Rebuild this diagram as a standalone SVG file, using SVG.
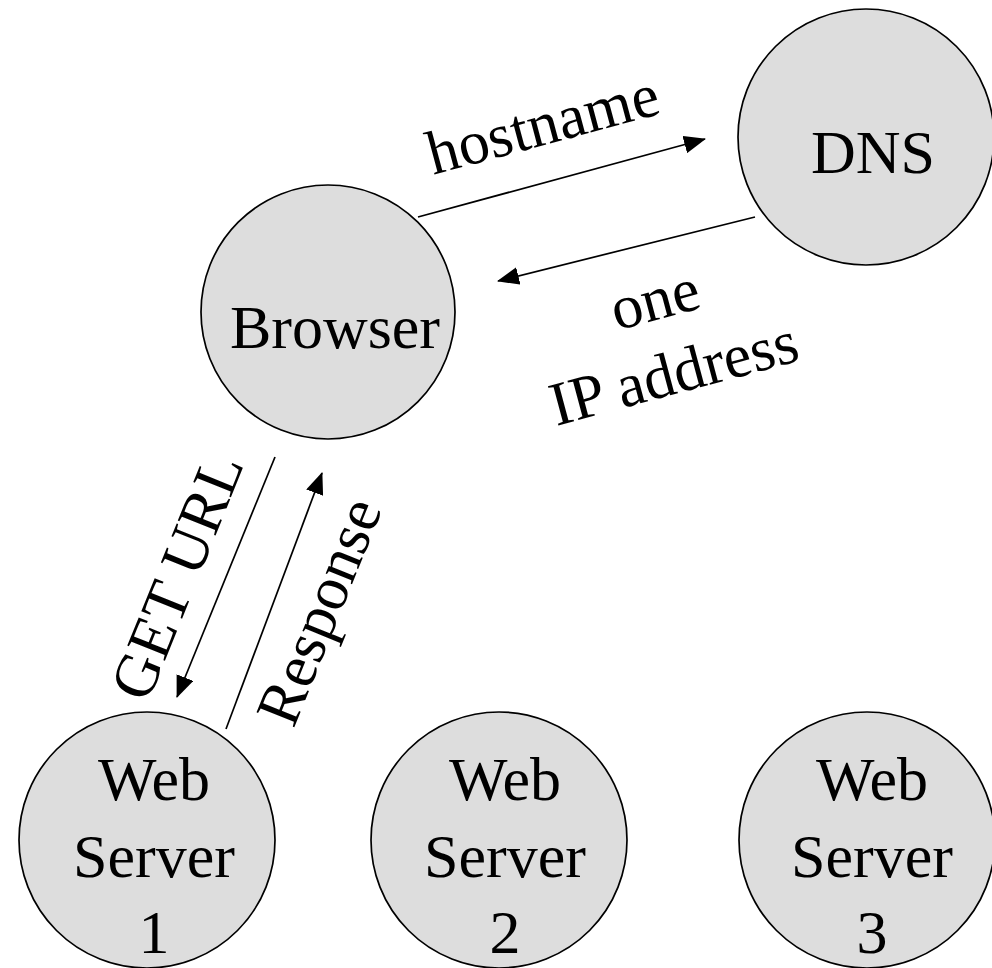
<svg xmlns="http://www.w3.org/2000/svg" width="992" height="968" viewBox="0 0 992 968">
<style>
.node{fill:#dddddd;stroke:#000;stroke-width:1.7}
.t{font-family:"Liberation Serif","Times New Roman",serif;font-size:62px;fill:#000;text-anchor:middle}
.c{stroke:#000;stroke-width:1.7;fill:none;marker-end:url(#ah)}
</style>
<defs>
<marker id="ah" markerUnits="userSpaceOnUse" markerWidth="22" markerHeight="18" viewBox="0 0 22 18" refX="21" refY="9" orient="auto">
<path d="M0,0 L22,9 L0,18 Z" fill="#000"/>
</marker>
</defs>
<rect width="992" height="968" fill="#fff"/>
<g id="connectors">
<line class="c" x1="418" y1="217" x2="705" y2="139"/>
<line class="c" x1="755" y1="217" x2="498" y2="281"/>
<line class="c" x1="275" y1="457" x2="177" y2="697"/>
<line class="c" x1="226" y1="729" x2="322" y2="473"/>
<text class="t" x="548" y="144" transform="rotate(-15 548 144)">hostname</text>
<text class="t" x="660" y="319" transform="rotate(-15 660 319)">one</text>
<text class="t" x="679" y="393" transform="rotate(-15 679 393)">IP address</text>
<text class="t" x="196" y="584" transform="rotate(-68 196 584)">GET URL</text>
<text class="t" x="338" y="619" transform="rotate(-68 338 619)">Response</text>
</g>
<g id="browser">
<circle class="node" cx="328" cy="312" r="127"/>
<text class="t" x="335" y="348">Browser</text>
</g>
<g id="dns">
<circle class="node" cx="866" cy="137" r="128"/>
<text class="t" x="873" y="173">DNS</text>
</g>
<g id="ws1">
<circle class="node" cx="147" cy="840" r="128"/>
<text class="t" x="154" y="800">Web</text>
<text class="t" x="154" y="877">Server</text>
<text class="t" x="154" y="953">1</text>
</g>
<g id="ws2">
<circle class="node" cx="499" cy="840" r="128"/>
<text class="t" x="505" y="800">Web</text>
<text class="t" x="505" y="877">Server</text>
<text class="t" x="505" y="953">2</text>
</g>
<g id="ws3">
<circle class="node" cx="867" cy="840" r="128"/>
<text class="t" x="872" y="800">Web</text>
<text class="t" x="872" y="877">Server</text>
<text class="t" x="872" y="953">3</text>
</g>
</svg>
